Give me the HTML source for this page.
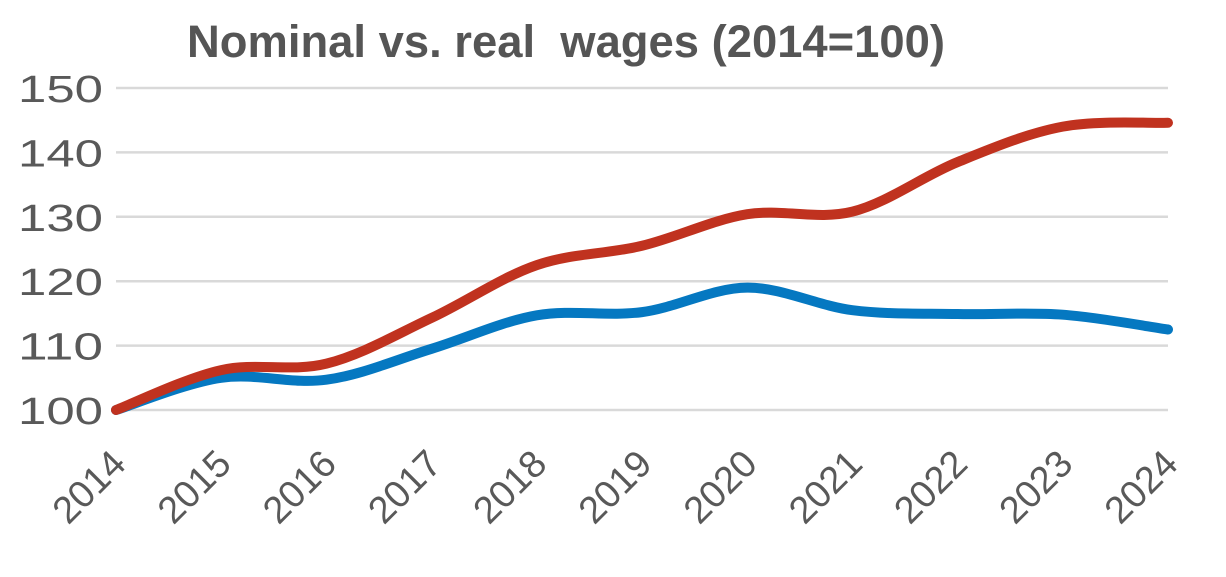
<!DOCTYPE html>
<html><head><meta charset="utf-8"><style>
body{margin:0;background:#fff;}
svg{display:block;font-family:"Liberation Sans",sans-serif;}
</style></head><body>
<svg id="chart" width="1226" height="577" viewBox="0 0 1226 577">
<text x="566" y="57" text-anchor="middle" font-size="45" font-weight="bold" fill="#555" style="white-space:pre" textLength="758" lengthAdjust="spacingAndGlyphs">Nominal vs. real  wages (2014=100)</text>
<g id="grid"></g><g id="yt"></g><g id="xt"></g><g id="lines"></g>
</svg>
<script>
const years=["2014","2015","2016","2017","2018","2019","2020","2021","2022","2023","2024"];
const nominal=[100,106.2,107.2,114.3,122.5,125.5,130.4,130.8,138.5,144.0,144.6];
const real=[100,105.0,104.7,109.5,114.7,115.2,119.0,115.5,114.9,114.8,112.5];
const yTicks=[100,110,120,130,140,150];
const NS="http://www.w3.org/2000/svg";
const x0=116,x1=1168,yb=410,yt=88;
const X=i=>x0+(x1-x0)*i/(years.length-1);
const Y=v=>yb-(v-100)/50*(yb-yt);
function mk(t,a,p){const e=document.createElementNS(NS,t);for(const k in a)e.setAttribute(k,a[k]);p.appendChild(e);return e;}
const g=document.getElementById('grid'),yg=document.getElementById('yt'),xg=document.getElementById('xt'),lg=document.getElementById('lines');
yTicks.forEach(v=>{
 const l=mk('line',{x1:x0,x2:x1,y1:Y(v),y2:Y(v),stroke:'#d9d9d9','stroke-width':2.5},g);
 
 
 const t=mk('text',{x:18,y:Y(v)+14,'font-size':38,fill:'#595959',textLength:85,lengthAdjust:'spacingAndGlyphs'},yg);
 t.textContent=v;
 
 
});
years.forEach((yr,i)=>{
 const t=mk('text',{transform:`translate(${X(i)+12},${yb+56}) rotate(-45)`,'text-anchor':'end','font-size':38,fill:'#595959'},xg);
 t.textContent=yr;
 
 
});
function path(vals){
 const p=vals.map((v,i)=>[X(i),Y(v)]);
 let d=`M${p[0][0]},${p[0][1]}`;
 for(let i=0;i<p.length-1;i++){
  const a=p[i-1]||p[i],b=p[i],c=p[i+1],e=p[i+2]||c;
  const t=1/6;
  d+=` C${b[0]+(c[0]-a[0])*t},${b[1]+(c[1]-a[1])*t} ${c[0]-(e[0]-b[0])*t},${c[1]-(e[1]-b[1])*t} ${c[0]},${c[1]}`;
 }
 return d;
}
const rl=mk('path',{d:path(real),fill:'none',stroke:'#0578c1','stroke-width':10,'stroke-linecap':'round'},lg);


const nl=mk('path',{d:path(nominal),fill:'none',stroke:'#c0321f','stroke-width':10,'stroke-linecap':'round'},lg);


</script>
</body></html>
